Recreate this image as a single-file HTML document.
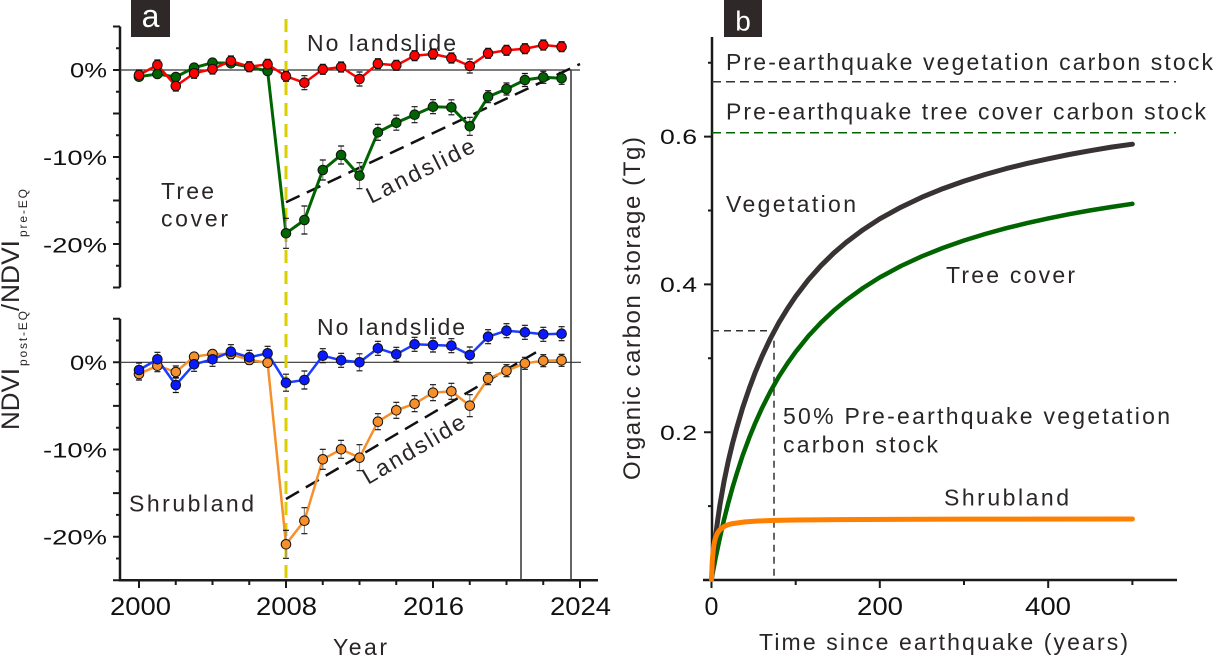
<!DOCTYPE html>
<html><head><meta charset="utf-8"><style>
html,body{margin:0;padding:0;background:#fff;}
svg{display:block;}
text{font-family:"Liberation Sans",Arial,sans-serif;}
</style></head><body>
<svg width="1215" height="657" viewBox="0 0 1215 657" xmlns="http://www.w3.org/2000/svg">
<rect width="1215" height="657" fill="#fff"/>

<!-- ================= PANEL A ================= -->
<rect x="131" y="0" width="39" height="37" fill="#2e2828"/>
<text x="150.5" y="27" font-size="32" fill="#fff" text-anchor="middle">a</text>

<!-- y title -->
<g fill="#2b2626">
<text transform="translate(19,430) rotate(-90)" font-size="25" textLength="62" lengthAdjust="spacingAndGlyphs">NDVI</text>
<text transform="translate(27,366) rotate(-90)" font-size="12" textLength="55" lengthAdjust="spacing">post-EQ</text>
<text transform="translate(19,311) rotate(-90)" font-size="25">/</text>
<text transform="translate(19,303) rotate(-90)" font-size="25" textLength="63" lengthAdjust="spacingAndGlyphs">NDVI</text>
<text transform="translate(27,237) rotate(-90)" font-size="12" textLength="48" lengthAdjust="spacing">pre-EQ</text>
</g>

<!-- axes -->
<g stroke="#1a1a1a" stroke-width="2.5" fill="none">
<path d="M120 26.5V287.5"/>
<path d="M120 318.7V580.3H598"/>
</g>
<g stroke="#1a1a1a" stroke-width="2" fill="none">
<path d="M113 26.5H120M113 70H120M113 113.5H120M113 157H120M113 200.5H120M113 244H120M113 287.5H120"/>
<path d="M116 48.25H120M116 91.75H120M116 135.25H120M116 178.75H120M116 222.25H120M116 265.75H120"/>
<path d="M113 318.7H120M113 362.3H120M113 405.9H120M113 449.5H120M113 493.1H120M113 536.7H120M113 580.3H120"/>
<path d="M116 340.5H120M116 384.1H120M116 427.7H120M116 471.3H120M116 514.9H120M116 558.5H120"/>
<path d="M139 580V588M286 580V588M433 580V588M580 580V588"/>
<path d="M175.75 580V585M212.5 580V585M249.25 580V585M322.75 580V585M359.5 580V585M396.25 580V585M469.75 580V585M506.5 580V585M543.25 580V585"/>
</g>

<!-- tick labels -->
<g fill="#111" font-size="21">
<text x="70" y="77.5" textLength="37" lengthAdjust="spacingAndGlyphs">0%</text>
<text x="43" y="165" textLength="64" lengthAdjust="spacingAndGlyphs">-10%</text>
<text x="43" y="252.3" textLength="64" lengthAdjust="spacingAndGlyphs">-20%</text>
<text x="70" y="370" textLength="37" lengthAdjust="spacingAndGlyphs">0%</text>
<text x="43" y="457.5" textLength="64" lengthAdjust="spacingAndGlyphs">-10%</text>
<text x="43" y="544.7" textLength="64" lengthAdjust="spacingAndGlyphs">-20%</text>
</g>
<g fill="#111" font-size="25">
<text x="110" y="615" textLength="61" lengthAdjust="spacingAndGlyphs">2000</text>
<text x="256" y="615" textLength="61" lengthAdjust="spacingAndGlyphs">2008</text>
<text x="403" y="615" textLength="61" lengthAdjust="spacingAndGlyphs">2016</text>
<text x="550" y="615" textLength="61" lengthAdjust="spacingAndGlyphs">2024</text>
</g>
<text x="333" y="655" font-size="23" fill="#2b2626" textLength="54" lengthAdjust="spacing">Year</text>

<!-- reference lines -->
<g stroke="#333" fill="none">
<path d="M120 70H580" stroke-width="1.2"/>
<path d="M120 362.3H581" stroke-width="1.2"/>
<path d="M571 70V580" stroke-width="1.5"/>
<path d="M521 362.3V580" stroke-width="1.5"/>
</g>
<path d="M286 19V580" stroke="#dccf00" stroke-width="3" stroke-dasharray="13 8" fill="none"/>

<g stroke="#111" stroke-width="2.5" stroke-dasharray="15 8" fill="none">
<path d="M286 202.3L580 64"/>
<path d="M286 499L536 352.3"/>
</g>

<!-- labels panel a -->
<g fill="#2b2626" font-size="23">
<text x="307" y="51" textLength="149" lengthAdjust="spacing">No landslide</text>
<text x="317" y="335" textLength="148" lengthAdjust="spacing">No landslide</text>
<text x="161" y="199" textLength="53" lengthAdjust="spacing">Tree</text>
<text x="161" y="226.7" textLength="67" lengthAdjust="spacing">cover</text>
<text x="129" y="511.7" textLength="125" lengthAdjust="spacing">Shrubland</text>
<text transform="translate(371,204) rotate(-26.5)" textLength="118" lengthAdjust="spacing">Landslide</text>
<text transform="translate(368,485) rotate(-30.5)" textLength="115" lengthAdjust="spacing">Landslide</text>
</g>

<!-- series lines -->
<polyline fill="none" stroke="#006400" stroke-width="3" points="139,76.7 157.4,74 175.8,77 194.1,67.7 212.5,62.7 230.9,63.3 249.3,67 267.6,71 286,233.3 304.4,220 322.8,170 341.1,155 359.5,175.7 377.9,132.3 396.3,122.7 414.6,114.7 433,106.7 451.4,107.3 469.8,126.3 488.1,96.7 506.5,89 524.9,80 543.3,77.3 561.6,78.3"/>
<polyline fill="none" stroke="#ff0000" stroke-width="2.5" points="139,75 157.4,65 175.8,86 194.1,73.3 212.5,69 230.9,61 249.3,66.7 267.6,64.3 286,76.3 304.4,82.7 322.8,69.3 341.1,67 359.5,79 377.9,63.7 396.3,65.3 414.6,55.7 433,54 451.4,58 469.8,66 488.1,53.3 506.5,50.3 524.9,48.7 543.3,45 561.6,46.7"/>
<polyline fill="none" stroke="#f7902a" stroke-width="2.5" points="139,374 157.4,365.7 175.8,372 194.1,356.7 212.5,354 230.9,354 249.3,360 267.6,362.7 286,544.3 304.4,520.7 322.8,459.3 341.1,449.3 359.5,457.7 377.9,421.7 396.3,410.3 414.6,403.7 433,392.7 451.4,391.3 469.8,405.7 488.1,378.7 506.5,370.7 524.9,363.3 543.3,360.7 561.6,360.3"/>
<polyline fill="none" stroke="#1a3cff" stroke-width="2.5" points="139,370 157.4,359.3 175.8,385 194.1,364.3 212.5,359.3 230.9,351.7 249.3,357.3 267.6,353.3 286,382.7 304.4,380 322.8,355.7 341.1,360.3 359.5,362.3 377.9,348.3 396.3,354.3 414.6,344.3 433,345 451.4,345.7 469.8,355 488.1,336.7 506.5,330.7 524.9,332.3 543.3,334.3 561.6,333.7"/>

<!-- error bars: stems -->
<g stroke="#8a8a8a" stroke-width="1.2" fill="none">
<path d="M286 218.3V248.3M304.4 206V234M322.8 160V180M341.1 146V164M359.5 162.7V188.7M377.9 124.3V140.3M396.3 115.2V130.2M414.6 106.7V122.7M433 99.7V113.7M451.4 99.8V114.8M469.8 117.3V135.3M488.1 90.7V102.7M506.5 83V95M524.9 73.5V86.5M543.3 71.3V83.3M561.6 72.3V84.3M304.4 75.7V89.7M359.5 72V86M469.8 59V73"/>
<path d="M286 530.3V558.3M304.4 507.7V533.7M322.8 449.3V469.3M341.1 440.3V458.3M359.5 444.7V470.7M377.9 413.7V429.7M396.3 402.3V418.3M414.6 395.7V411.7M433 384.7V400.7M451.4 383.3V399.3M469.8 394.7V416.7M488.1 372.7V384.7M506.5 364.7V376.7M524.9 357.3V369.3M543.3 354.7V366.7M561.6 354.3V366.3"/>
<path d="M139 363V377M157.4 352.3V366.3M175.8 377.5V392.5M194.1 357.3V371.3M212.5 352.3V366.3M230.9 344.7V358.7M249.3 350.3V364.3M267.6 346.3V360.3M286 374.2V391.2M304.4 371V389M322.8 348.7V362.7M341.1 353.3V367.3M359.5 353.8V370.8M377.9 341.3V355.3M396.3 347.3V361.3M414.6 337.3V351.3M433 338V352M451.4 338.7V352.7M469.8 347V363M488.1 329.7V343.7M506.5 323.7V337.7M524.9 325.3V339.3M543.3 327.3V341.3M561.6 326.7V340.7"/>
</g>
<!-- error bars: caps -->
<g stroke="#111" stroke-width="1.2" fill="none">
<path d="M283 218.3h6M283 248.3h6M301.4 206h6M301.4 234h6M319.8 160h6M319.8 180h6M338.1 146h6M338.1 164h6M356.5 162.7h6M356.5 188.7h6M374.9 124.3h6M374.9 140.3h6M393.3 115.2h6M393.3 130.2h6M411.6 106.7h6M411.6 122.7h6M430 99.7h6M430 113.7h6M448.4 99.8h6M448.4 114.8h6M466.8 117.3h6M466.8 135.3h6M485.1 90.7h6M485.1 102.7h6M503.5 83h6M503.5 95h6M521.9 73.5h6M521.9 86.5h6M540.3 71.3h6M540.3 83.3h6M558.6 72.3h6M558.6 84.3h6"/>
<path d="M301.4 75.7h6M301.4 89.7h6M356.5 72h6M356.5 86h6M466.8 59h6M466.8 73h6M136 70h6M136 80h6M154.4 60h6M154.4 70h6M172.8 81h6M172.8 91h6M191.1 68.3h6M191.1 78.3h6M209.5 64h6M209.5 74h6M227.9 56h6M227.9 66h6M246.3 61.7h6M246.3 71.7h6M264.6 59.3h6M264.6 69.3h6M283 71.3h6M283 81.3h6M319.8 64.3h6M319.8 74.3h6M338.1 62h6M338.1 72h6M374.9 58.7h6M374.9 68.7h6M393.3 60.3h6M393.3 70.3h6M411.6 50.7h6M411.6 60.7h6M430 49h6M430 59h6M448.4 53h6M448.4 63h6M485.1 48.3h6M485.1 58.3h6M503.5 45.3h6M503.5 55.3h6M521.9 43.7h6M521.9 53.7h6M540.3 40h6M540.3 50h6M558.6 41.7h6M558.6 51.7h6"/>
<path d="M283 530.3h6M283 558.3h6M301.4 507.7h6M301.4 533.7h6M319.8 449.3h6M319.8 469.3h6M338.1 440.3h6M338.1 458.3h6M356.5 444.7h6M356.5 470.7h6M374.9 413.7h6M374.9 429.7h6M393.3 402.3h6M393.3 418.3h6M411.6 395.7h6M411.6 411.7h6M430 384.7h6M430 400.7h6M448.4 383.3h6M448.4 399.3h6M466.8 394.7h6M466.8 416.7h6M485.1 372.7h6M485.1 384.7h6M503.5 364.7h6M503.5 376.7h6M521.9 357.3h6M521.9 369.3h6M540.3 354.7h6M540.3 366.7h6M558.6 354.3h6M558.6 366.3h6M136 368h6M136 380h6M154.4 359.7h6M154.4 371.7h6M172.8 366h6M172.8 378h6"/>
<path d="M136 363h6M136 377h6M154.4 352.3h6M154.4 366.3h6M172.8 377.5h6M172.8 392.5h6M191.1 357.3h6M191.1 371.3h6M209.5 352.3h6M209.5 366.3h6M227.9 344.7h6M227.9 358.7h6M246.3 350.3h6M246.3 364.3h6M264.6 346.3h6M264.6 360.3h6M283 374.2h6M283 391.2h6M301.4 371h6M301.4 389h6M319.8 348.7h6M319.8 362.7h6M338.1 353.3h6M338.1 367.3h6M356.5 353.8h6M356.5 370.8h6M374.9 341.3h6M374.9 355.3h6M393.3 347.3h6M393.3 361.3h6M411.6 337.3h6M411.6 351.3h6M430 338h6M430 352h6M448.4 338.7h6M448.4 352.7h6M466.8 347h6M466.8 363h6M485.1 329.7h6M485.1 343.7h6M503.5 323.7h6M503.5 337.7h6M521.9 325.3h6M521.9 339.3h6M540.3 327.3h6M540.3 341.3h6M558.6 326.7h6M558.6 340.7h6"/>
</g>

<!-- markers -->
<g fill="#006400" stroke="#111" stroke-width="1">
<circle cx="139" cy="76.7" r="4.8"/><circle cx="157.4" cy="74" r="4.8"/><circle cx="175.8" cy="77" r="4.8"/><circle cx="194.1" cy="67.7" r="4.8"/><circle cx="212.5" cy="62.7" r="4.8"/><circle cx="230.9" cy="63.3" r="4.8"/><circle cx="249.3" cy="67" r="4.8"/><circle cx="267.6" cy="71" r="4.8"/><circle cx="286" cy="233.3" r="4.8"/><circle cx="304.4" cy="220" r="4.8"/><circle cx="322.8" cy="170" r="4.8"/><circle cx="341.1" cy="155" r="4.8"/><circle cx="359.5" cy="175.7" r="4.8"/><circle cx="377.9" cy="132.3" r="4.8"/><circle cx="396.3" cy="122.7" r="4.8"/><circle cx="414.6" cy="114.7" r="4.8"/><circle cx="433" cy="106.7" r="4.8"/><circle cx="451.4" cy="107.3" r="4.8"/><circle cx="469.8" cy="126.3" r="4.8"/><circle cx="488.1" cy="96.7" r="4.8"/><circle cx="506.5" cy="89" r="4.8"/><circle cx="524.9" cy="80" r="4.8"/><circle cx="543.3" cy="77.3" r="4.8"/><circle cx="561.6" cy="78.3" r="4.8"/>
</g>
<g fill="#ff0000" stroke="#111" stroke-width="1">
<circle cx="139" cy="75" r="4.8"/><circle cx="157.4" cy="65" r="4.8"/><circle cx="175.8" cy="86" r="4.8"/><circle cx="194.1" cy="73.3" r="4.8"/><circle cx="212.5" cy="69" r="4.8"/><circle cx="230.9" cy="61" r="4.8"/><circle cx="249.3" cy="66.7" r="4.8"/><circle cx="267.6" cy="64.3" r="4.8"/><circle cx="286" cy="76.3" r="4.8"/><circle cx="304.4" cy="82.7" r="4.8"/><circle cx="322.8" cy="69.3" r="4.8"/><circle cx="341.1" cy="67" r="4.8"/><circle cx="359.5" cy="79" r="4.8"/><circle cx="377.9" cy="63.7" r="4.8"/><circle cx="396.3" cy="65.3" r="4.8"/><circle cx="414.6" cy="55.7" r="4.8"/><circle cx="433" cy="54" r="4.8"/><circle cx="451.4" cy="58" r="4.8"/><circle cx="469.8" cy="66" r="4.8"/><circle cx="488.1" cy="53.3" r="4.8"/><circle cx="506.5" cy="50.3" r="4.8"/><circle cx="524.9" cy="48.7" r="4.8"/><circle cx="543.3" cy="45" r="4.8"/><circle cx="561.6" cy="46.7" r="4.8"/>
</g>
<g fill="#f7902a" stroke="#111" stroke-width="1">
<circle cx="139" cy="374" r="4.8"/><circle cx="157.4" cy="365.7" r="4.8"/><circle cx="175.8" cy="372" r="4.8"/><circle cx="194.1" cy="356.7" r="4.8"/><circle cx="212.5" cy="354" r="4.8"/><circle cx="230.9" cy="354" r="4.8"/><circle cx="249.3" cy="360" r="4.8"/><circle cx="267.6" cy="362.7" r="4.8"/><circle cx="286" cy="544.3" r="4.8"/><circle cx="304.4" cy="520.7" r="4.8"/><circle cx="322.8" cy="459.3" r="4.8"/><circle cx="341.1" cy="449.3" r="4.8"/><circle cx="359.5" cy="457.7" r="4.8"/><circle cx="377.9" cy="421.7" r="4.8"/><circle cx="396.3" cy="410.3" r="4.8"/><circle cx="414.6" cy="403.7" r="4.8"/><circle cx="433" cy="392.7" r="4.8"/><circle cx="451.4" cy="391.3" r="4.8"/><circle cx="469.8" cy="405.7" r="4.8"/><circle cx="488.1" cy="378.7" r="4.8"/><circle cx="506.5" cy="370.7" r="4.8"/><circle cx="524.9" cy="363.3" r="4.8"/><circle cx="543.3" cy="360.7" r="4.8"/><circle cx="561.6" cy="360.3" r="4.8"/>
</g>
<g fill="#0a1aff" stroke="#111" stroke-width="1">
<circle cx="139" cy="370" r="4.8"/><circle cx="157.4" cy="359.3" r="4.8"/><circle cx="175.8" cy="385" r="4.8"/><circle cx="194.1" cy="364.3" r="4.8"/><circle cx="212.5" cy="359.3" r="4.8"/><circle cx="230.9" cy="351.7" r="4.8"/><circle cx="249.3" cy="357.3" r="4.8"/><circle cx="267.6" cy="353.3" r="4.8"/><circle cx="286" cy="382.7" r="4.8"/><circle cx="304.4" cy="380" r="4.8"/><circle cx="322.8" cy="355.7" r="4.8"/><circle cx="341.1" cy="360.3" r="4.8"/><circle cx="359.5" cy="362.3" r="4.8"/><circle cx="377.9" cy="348.3" r="4.8"/><circle cx="396.3" cy="354.3" r="4.8"/><circle cx="414.6" cy="344.3" r="4.8"/><circle cx="433" cy="345" r="4.8"/><circle cx="451.4" cy="345.7" r="4.8"/><circle cx="469.8" cy="355" r="4.8"/><circle cx="488.1" cy="336.7" r="4.8"/><circle cx="506.5" cy="330.7" r="4.8"/><circle cx="524.9" cy="332.3" r="4.8"/><circle cx="543.3" cy="334.3" r="4.8"/><circle cx="561.6" cy="333.7" r="4.8"/>
</g>

<!-- ================= PANEL B ================= -->
<rect x="724" y="0" width="38" height="37" fill="#2e2828"/>
<text x="743" y="30.5" font-size="28" fill="#fff" text-anchor="middle">b</text>

<g stroke="#1a1a1a" stroke-width="2.5" fill="none">
<path d="M712 37V580"/>
<path d="M703 580H1177"/>
</g>
<g stroke="#1a1a1a" stroke-width="2" fill="none">
<path d="M704 432.2H712M704 284.4H712M704 136.6H712"/>
<path d="M708 506.1H712M708 358.3H712M708 210.5H712M708 62.7H712"/>
<path d="M711.5 580V588M879.8 580V588M1048.2 580V588"/>
<path d="M795.7 580V585M964 580V585M1132.4 580V585"/>
</g>
<g fill="#111" font-size="21">
<text x="660" y="144" textLength="37" lengthAdjust="spacingAndGlyphs">0.6</text>
<text x="660" y="292" textLength="37" lengthAdjust="spacingAndGlyphs">0.4</text>
<text x="660" y="440" textLength="37" lengthAdjust="spacingAndGlyphs">0.2</text>
</g>
<g fill="#111" font-size="25">
<text x="711.5" y="615" text-anchor="middle">0</text>
<text x="857" y="615" textLength="46" lengthAdjust="spacingAndGlyphs">200</text>
<text x="1025" y="615" textLength="46" lengthAdjust="spacingAndGlyphs">400</text>
</g>
<g fill="#2b2626" font-size="23">
<text x="759" y="650" textLength="369" lengthAdjust="spacing">Time since earthquake (years)</text>
<text transform="translate(640,480) rotate(-90)" font-size="24" textLength="343" lengthAdjust="spacing">Organic carbon storage (Tg)</text>
<text x="726" y="70" textLength="487" lengthAdjust="spacing">Pre-earthquake vegetation carbon stock</text>
<text x="726" y="119.3" textLength="480" lengthAdjust="spacing">Pre-earthquake tree cover carbon stock</text>
<text x="726" y="212" textLength="130" lengthAdjust="spacing">Vegetation</text>
<text x="946" y="283" textLength="129" lengthAdjust="spacing">Tree cover</text>
<text x="783" y="424" textLength="387" lengthAdjust="spacing">50% Pre-earthquake vegetation</text>
<text x="783" y="452.3" textLength="155" lengthAdjust="spacing">carbon stock</text>
<text x="944" y="505.7" textLength="125" lengthAdjust="spacing">Shrubland</text>
</g>

<path d="M712 81.7H1176" stroke="#333" stroke-width="1.5" stroke-dasharray="9 5" fill="none"/>
<path d="M712 132.7H1176" stroke="#006400" stroke-width="1.5" stroke-dasharray="9 5" fill="none"/>
<path d="M712 330.7H774V580" stroke="#333" stroke-width="1.5" stroke-dasharray="7 5" fill="none"/>

<!-- curves -->
<path fill="none" stroke="#006400" stroke-width="4.5" stroke-linecap="round" stroke-linejoin="round" d="M711.5 579.5L713.2 570.4L715.7 557.5L719.9 537.6L724.1 519.4L728.3 502.8L732.5 487.6L736.8 473.5L742.6 455.6L749.4 437.3L755.3 422.9L762 408.1L770.4 391.5L778.8 376.7L787.3 363.6L795.7 351.8L808.3 336.1L820.9 322.6L833.5 310.7L846.2 300.2L863 288L879.8 277.4L900.9 266L921.9 256.3L943 247.9L964 240.5L985.1 234L1006.1 228.2L1027.1 223.1L1048.2 218.4L1069.2 214.2L1090.3 210.4L1111.3 207L1132.4 203.8"/>
<path fill="none" stroke="#383232" stroke-width="5" stroke-linecap="round" stroke-linejoin="round" d="M711.5 579.5L713.2 559.7L714.4 547L715.7 535.7L717.4 522.3L719.9 505L724.1 481.1L728.3 461L732.5 443.5L736.8 427.7L742.6 407.9L749.4 388L755.3 372.3L762 356.3L770.4 338.5L778.8 322.8L787.3 308.9L795.7 296.4L808.3 279.9L820.9 265.7L833.5 253.3L846.2 242.4L863 229.8L879.8 218.8L900.9 207.2L921.9 197.2L943 188.6L964 181.1L985.1 174.5L1006.1 168.6L1027.1 163.4L1048.2 158.8L1069.2 154.5L1090.3 150.7L1111.3 147.1L1132.4 144.2"/>
<path fill="none" stroke="#ff8000" stroke-width="5" stroke-linecap="round" stroke-linejoin="round" d="M711.5 579.5L712.3 560.5L713.2 550.5L714 544.4L714.9 540.3L715.7 537.3L717.4 533.2L719.9 529.7L724.1 526.5L728.3 524.7L732.5 523.6L745.2 521.9L757.8 521L774.6 520.4L795.7 520L837.8 519.6L964 519.1L1132.4 519"/>
</svg>
</body></html>
